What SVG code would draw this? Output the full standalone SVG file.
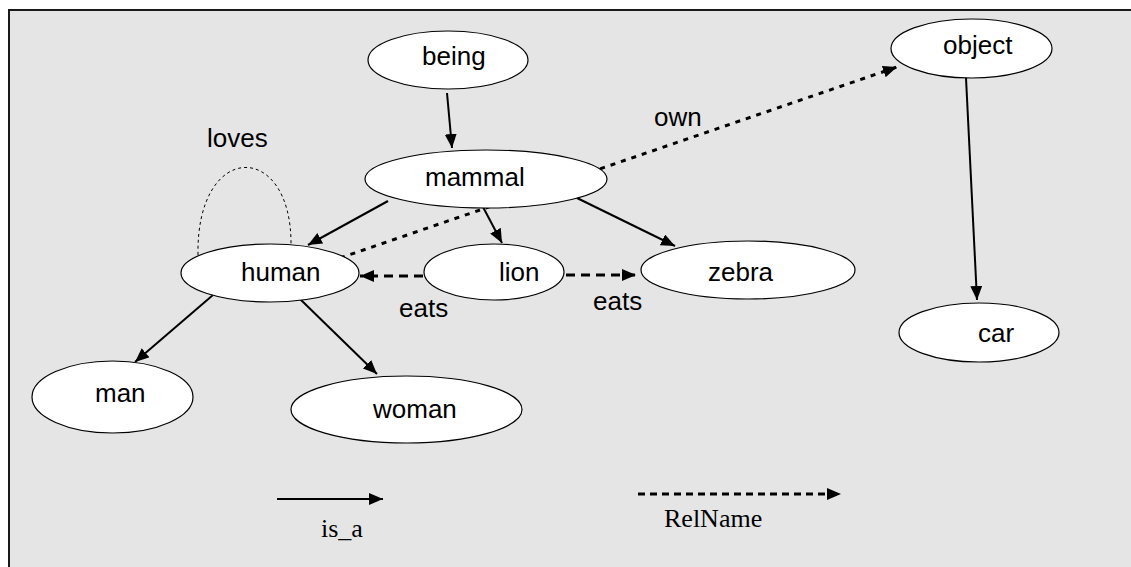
<svg xmlns="http://www.w3.org/2000/svg" width="1131" height="567" viewBox="0 0 1131 567">
<style>
.node ellipse{fill:#fff;stroke:#000;stroke-width:1.2}
.lbl{font-family:"Liberation Sans",Arial,sans-serif;font-size:26px;fill:#000}
.ser{font-family:"Liberation Serif","Times New Roman",serif;font-size:26px;fill:#000}
.isa{stroke:#000;stroke-width:2;fill:none;marker-end:url(#ah)}
.rel{stroke:#000;stroke-width:3;fill:none;stroke-dasharray:9,6;marker-end:url(#ah)}
.own{stroke:#000;stroke-width:3;fill:none;stroke-dasharray:5,6;marker-end:url(#ah)}
.loop{stroke:#000;stroke-width:1;fill:none;stroke-dasharray:3,3}
</style>
<defs>
<marker id="ah" markerUnits="userSpaceOnUse" markerWidth="14" markerHeight="12" refX="14" refY="6" orient="auto">
<path d="M0,0 L14,6 L0,12 z" fill="#000"/>
</marker>
</defs>
<rect x="9" y="10" width="1130" height="570" fill="#e5e5e5" stroke="#1a1a1a" stroke-width="2"/>

<g id="connectors">
<line class="isa" x1="447" y1="93" x2="452" y2="148"/>
<line class="isa" x1="388" y1="201" x2="308" y2="245"/>
<line class="isa" x1="483" y1="207" x2="502" y2="243"/>
<line class="isa" x1="577" y1="198" x2="675" y2="246"/>
<line class="isa" x1="213" y1="295" x2="135" y2="362"/>
<line class="isa" x1="300" y1="299" x2="377" y2="374"/>
<line class="isa" x1="966" y1="78" x2="977" y2="300"/>
<line class="rel" x1="423" y1="276" x2="360" y2="276"/>
<line class="rel" x1="566" y1="275" x2="636" y2="275"/>
<line class="own" x1="340" y1="258" x2="897" y2="67"/>
<path class="loop" d="M198,255 C196,140 292,140 291,245"/>
</g>

<g id="node-being" class="node"><ellipse cx="448" cy="60" rx="80" ry="29"/><text class="lbl" x="422" y="65">being</text></g>
<g id="node-mammal" class="node"><ellipse cx="486" cy="179" rx="121" ry="29"/><text class="lbl" x="425" y="186">mammal</text></g>
<g id="node-human" class="node"><ellipse cx="270" cy="273" rx="89" ry="29"/><text class="lbl" x="241" y="281">human</text></g>
<g id="node-lion" class="node"><ellipse cx="494" cy="272" rx="70" ry="28"/><text class="lbl" x="499" y="281">lion</text></g>
<g id="node-zebra" class="node"><ellipse cx="748" cy="270" rx="107" ry="29"/><text class="lbl" x="708" y="281">zebra</text></g>
<g id="node-object" class="node"><ellipse cx="971.5" cy="48.5" rx="80.5" ry="29.5"/><text class="lbl" x="943" y="54">object</text></g>
<g id="node-car" class="node"><ellipse cx="979" cy="332.5" rx="80" ry="29.5"/><text class="lbl" x="978" y="342">car</text></g>
<g id="node-man" class="node"><ellipse cx="112.5" cy="397" rx="80.5" ry="36"/><text class="lbl" x="95" y="402">man</text></g>
<g id="node-woman" class="node"><ellipse cx="406.5" cy="409.5" rx="115.5" ry="33.5"/><text class="lbl" x="373" y="418">woman</text></g>

<g id="labels">
<text class="lbl" x="207" y="147">loves</text>
<text class="lbl" x="654" y="126">own</text>
<text class="lbl" x="399" y="317">eats</text>
<text class="lbl" x="593" y="310">eats</text>
</g>

<g id="legend">
<line class="isa" x1="277" y1="499" x2="383" y2="499"/>
<text class="ser" x="321" y="537">is_a</text>
<line class="rel" x1="638" y1="494" x2="841" y2="494" style="stroke-width:3;stroke-dasharray:7,5"/>
<text class="ser" x="664" y="527">RelName</text>
</g>
</svg>
